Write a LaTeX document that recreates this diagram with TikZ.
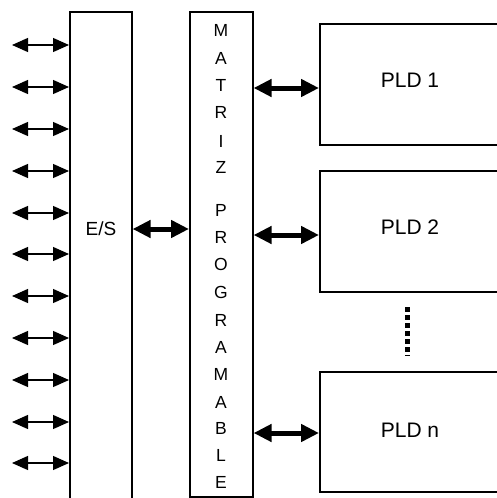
\documentclass[tikz,border=0pt]{standalone}
\usepackage{fontspec}
\setmainfont{Liberation Sans}
\usetikzlibrary{arrows.meta}
\begin{document}
\begin{tikzpicture}[x=1pt,y=-1pt,
  box/.style={draw=black,line width=1.6pt,rectangle,inner sep=0pt,anchor=north west},
  lbl/.style={inner sep=0pt,font=\fontsize{21}{24}\selectfont},
  eslbl/.style={inner sep=0pt,font=\fontsize{19}{22}\selectfont},
  mlbl/.style={inner sep=0pt,font=\fontsize{17.5}{20}\selectfont},
  bigarrow/.style={line width=5pt,{Triangle[length=18pt,width=17pt]}-{Triangle[length=18pt,width=17pt]}},
  smallarrow/.style={line width=1.2pt,{Triangle[length=16pt,width=14pt]}-{Triangle[length=16pt,width=14pt]}}]
\fill[white] (0,0) rectangle (497,498);
\clip (0,0) rectangle (497,498);
% boxes
\node[box,minimum width=62pt,minimum height=520pt] (es) at (69,11) {};
\node[box,minimum width=63pt,minimum height=485pt] (mat) at (189,11) {};
\node[box,minimum width=201pt,minimum height=121pt] (pld1) at (319,23) {};
\node[box,minimum width=201pt,minimum height=121pt] (pld2) at (319,170) {};
\node[box,minimum width=201pt,minimum height=120pt] (pldn) at (319,371) {};
% texts
\node[eslbl] (tes) at (101,229) {E/S};
\node[lbl] (t1) at (410,80) {PLD 1};
\node[lbl] (t2) at (410,227) {PLD 2};
\node[lbl] (tn) at (410,430) {PLD n};
\foreach \ch/\yy [count=\i] in {M/30,A/58,T/85,R/112,I/141,Z/167,P/210,R/237,O/264,G/292,R/320,A/347,M/374,A/402,B/428,L/455,E/482}
  \node[mlbl] (m\i) at (221,\yy) {\ch};
% left io arrows
\foreach \yy [count=\i] in {45,87,129,171,213,254,296,338,380,422,463}{
  \coordinate (io\i) at (12,\yy);
  \draw[smallarrow] (io\i) -- (es.west |- io\i);
}
% big arrows
\coordinate (c0) at (0,229);
\coordinate (c1) at (0,88);
\coordinate (c2) at (0,235);
\coordinate (cn) at (0,433);
\draw[bigarrow] (es.east |- c0) -- (mat.west |- c0);
\draw[bigarrow] (mat.east |- c1) -- (pld1.west |- c1);
\draw[bigarrow] (mat.east |- c2) -- (pld2.west |- c2);
\draw[bigarrow] (mat.east |- cn) -- (pldn.west |- cn);
% dots
\coordinate (d1) at (407,307);
\coordinate (d2) at (407,356);
\draw[line width=5pt,dash pattern=on 5pt off 3pt] (d1) -- (d2);
\end{tikzpicture}
\end{document}
